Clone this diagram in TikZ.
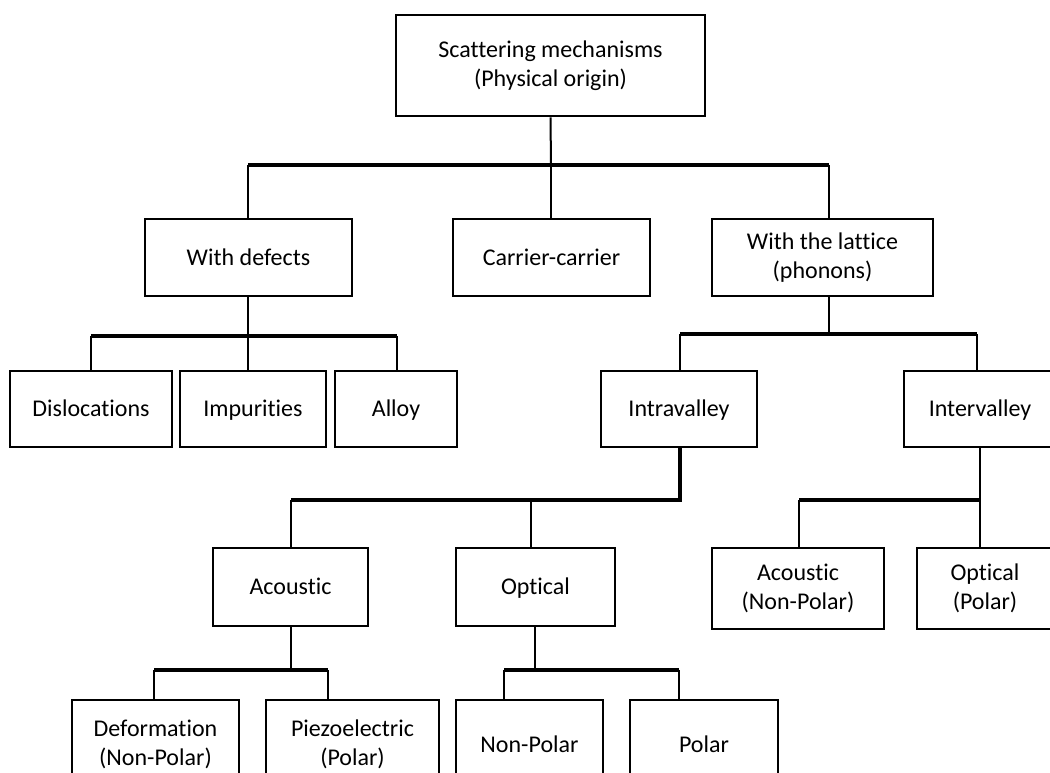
\documentclass[tikz,border=0pt]{standalone}
\usepackage{fontspec}
\setmainfont{Carlito}[Ligatures={NoCommon}]
% strut that keeps every line of a box at the same height and depth
\newcommand\boxstrut{\rule[-4.5pt]{0pt}{24.5pt}}
\begin{document}
\begin{tikzpicture}[x=1pt,y=-1pt,
  box/.style={draw=black,line width=2.6pt,fill=white,align=center,inner sep=0pt,
    font=\fontsize{24}{29}\selectfont,text=black,
    execute at begin node=\boxstrut,execute at end node=\boxstrut},
  stem/.style={line width=2pt,black},
  bus/.style={line width=3.4pt,black}]
\useasboundingbox (0,0) rectangle (1050,773);
\clip (0,0) rectangle (1050,773);
\fill[white] (0,0) rectangle (1050,773);

% root
\node[box,minimum width=309pt,minimum height=101pt] (top) at (550.5,65.5) {Scattering mechanisms\\(Physical origin)};

% second level
\node[box,minimum width=207pt,minimum height=77pt] (defects) at (248.5,257.5) {With defects};
\node[box,minimum width=197pt,minimum height=77pt] (carrier) at (551.5,257.5) {Carrier-carrier};
\node[box,minimum width=221pt,minimum height=77pt] (lattice) at (822.5,257.5) {With the lattice\\(phonons)};

% defects
\node[box,minimum width=162pt,minimum height=76pt] (disloc) at (91,409) {Dislocations};
\node[box,minimum width=146pt,minimum height=76pt] (impur) at (253,409) {Impurities};
\node[box,minimum width=122pt,minimum height=76pt] (alloy) at (396,409) {Alloy};

% phonons
\node[box,minimum width=156pt,minimum height=76pt] (intra) at (679,409) {Intravalley};
\node[box,minimum width=152pt,minimum height=76pt] (inter) at (980,409) {Intervalley};

% intravalley
\node[box,minimum width=155pt,minimum height=78pt] (acou) at (290.5,587) {Acoustic};
\node[box,minimum width=159pt,minimum height=78pt] (opt) at (535.5,587) {Optical};

% intervalley
\node[box,minimum width=172pt,minimum height=81pt] (acnp) at (798,588.5) {Acoustic\\(Non-Polar)};
\node[box,minimum width=136pt,minimum height=81pt] (optp) at (985,588.5) {Optical\\(Polar)};

% bottom level
\node[box,minimum width=167pt,minimum height=90pt] (deform) at (155.5,745) {Deformation\\(Non-Polar)};
\node[box,minimum width=173pt,minimum height=90pt] (piezo) at (352.5,745) {Piezoelectric\\(Polar)};
\node[box,minimum width=147pt,minimum height=90pt] (npol) at (529.5,745) {Non-Polar};
\node[box,minimum width=148pt,minimum height=90pt] (pol) at (704,745) {Polar};

% junction points
\coordinate (j1) at (551,165);
\coordinate (j1a) at (248,165);
\coordinate (j1c) at (829,165);
\coordinate (j2) at (248,336);
\coordinate (j2a) at (91,336);
\coordinate (j2c) at (396.5,336);
\coordinate (j3) at (829,334);
\coordinate (j3a) at (680,334);
\coordinate (j3c) at (977,334);
\coordinate (j4) at (680,500);
\coordinate (j4a) at (291,500);
\coordinate (j4b) at (530.5,500);
\coordinate (j5) at (980,500);
\coordinate (j5a) at (799,500);
\coordinate (j6) at (291,670);
\coordinate (j6a) at (154,670);
\coordinate (j6c) at (328,670);
\coordinate (j7) at (535,670);
\coordinate (j7a) at (504,670);
\coordinate (j7c) at (678.5,670);

% root branches
\draw[stem] (top.south) -- (j1);
\draw[bus] (j1a) -- (j1c);
\draw[stem] (j1a) -- (j1a |- defects.north);
\draw[stem] (j1) -- (j1 |- carrier.north);
\draw[stem] (j1c) -- (j1c |- lattice.north);

% defects branches
\draw[stem] (j2 |- defects.south) -- (j2);
\draw[bus] (j2a) -- (j2c);
\draw[stem] (j2a) -- (j2a |- disloc.north);
\draw[stem] (j2) -- (j2 |- impur.north);
\draw[stem] (j2c) -- (j2c |- alloy.north);

% lattice branches
\draw[stem] (j3 |- lattice.south) -- (j3);
\draw[bus] (j3a) -- (j3c);
\draw[stem] (j3a) -- (j3a |- intra.north);
\draw[stem] (j3c) -- (j3c |- inter.north);

% intravalley branches
\draw[bus] (j4 |- intra.south) -- (j4) -- (j4a);
\draw[stem] (j4a) -- (j4a |- acou.north);
\draw[stem] (j4b) -- (j4b |- opt.north);

% intervalley branches
\draw[stem] (j5 |- inter.south) -- (j5 |- optp.north);
\draw[bus] (j5) -- (j5a);
\draw[stem] (j5a) -- (j5a |- acnp.north);

% acoustic branches
\draw[stem] (j6 |- acou.south) -- (j6);
\draw[bus] (j6a) -- (j6c);
\draw[stem] (j6a) -- (j6a |- deform.north);
\draw[stem] (j6c) -- (j6c |- piezo.north);

% optical branches
\draw[stem] (j7 |- opt.south) -- (j7);
\draw[bus] (j7a) -- (j7c);
\draw[stem] (j7a) -- (j7a |- npol.north);
\draw[stem] (j7c) -- (j7c |- pol.north);
\end{tikzpicture}
\end{document}
